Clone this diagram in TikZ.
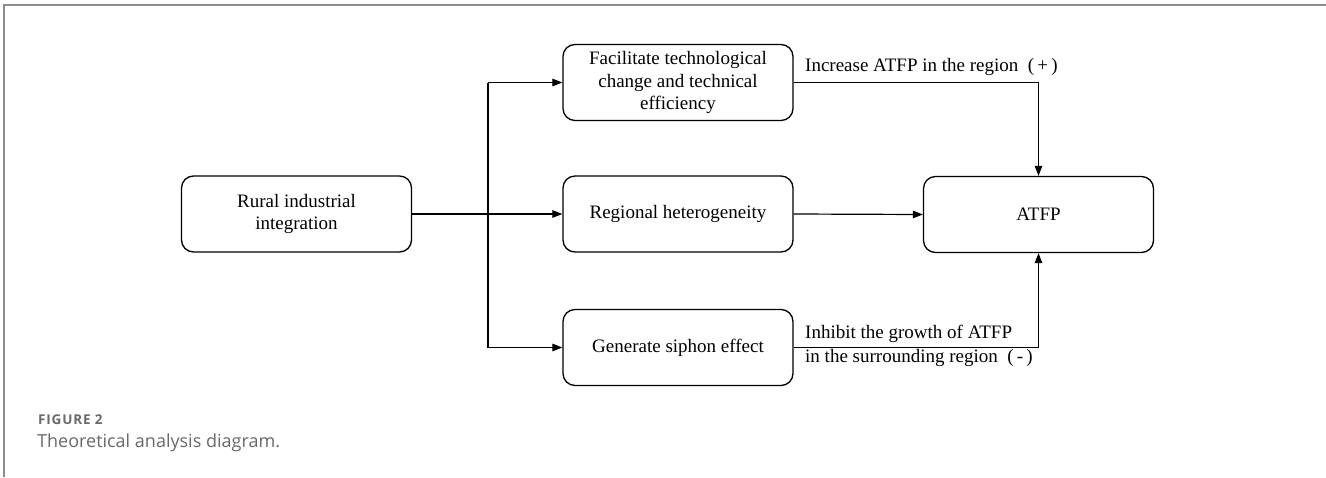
\documentclass[tikz,border=0pt]{standalone}
\usepackage{fontspec}
\setmainfont{Liberation Serif}
\newfontfamily\capfont{Open Sans}
\newfontfamily\capfontsp[LetterSpace=6]{Open Sans}
\usetikzlibrary{arrows.meta}
\definecolor{framegray}{RGB}{140,140,140}
\definecolor{capgray}{RGB}{105,105,105}
\begin{document}
\begin{tikzpicture}[x=1pt,y=-1pt,
  box/.style={draw, line width=1.3pt, rounded corners=12pt, align=center,
    minimum width=230pt, minimum height=76pt, inner sep=2pt,
    font=\fontsize{19}{22.5}\selectfont},
  conn/.style={line width=1.2pt, -{Triangle[length=10pt,width=7.5pt]}},
  lab/.style={font=\fontsize{19}{24}\selectfont, inner sep=0pt, align=left}]
\useasboundingbox (0,0) rectangle (1326,477);
\draw[framegray, line width=2pt] (4,477) -- (4,5) -- (1326,5);
\node[box] (rural) at (296.5,214) {Rural industrial\\integration};
\node[box] (tech) at (678,82.5) {Facilitate technological\\change and technical\\efficiency};
\node[box] (reg) at (678,214) {Regional heterogeneity};
\node[box] (siph) at (678,347.5) {Generate siphon effect};
\node[box] (atfp) at (1038.5,214.5) {ATFP};
\coordinate (btop) at (488,82.5);
\coordinate (bbot) at (488,347.5);
\draw[line width=1.2pt] (btop) -- (bbot);
\draw[conn] (rural.east) -- (reg.west);
\draw[conn] (btop) -- (tech.west);
\draw[conn] (bbot) -- (siph.west);
\draw[conn] (reg.east) -- (atfp.west);
\draw[conn] (tech.east) -| (atfp.north);
\draw[conn] (siph.east) -| (atfp.south);
\node[lab, anchor=west] (inc) at (805,67) {Increase ATFP in the region\ \ (\,+\,)};
\node[lab, anchor=west] (inh) at (805,346) {Inhibit the growth of ATFP\\in the surrounding region\ \ (\,-\,)};
\node[anchor=west, inner sep=0pt, text=capgray, font=\capfontsp\bfseries\fontsize{13.5}{16}\selectfont] (fig) at (38,420) {FIGURE 2};
\node[anchor=west, inner sep=0pt, text=capgray, font=\capfont\fontsize{18}{21}\selectfont] (cap) at (37,443) {Theoretical analysis diagram.};
\end{tikzpicture}
\end{document}
